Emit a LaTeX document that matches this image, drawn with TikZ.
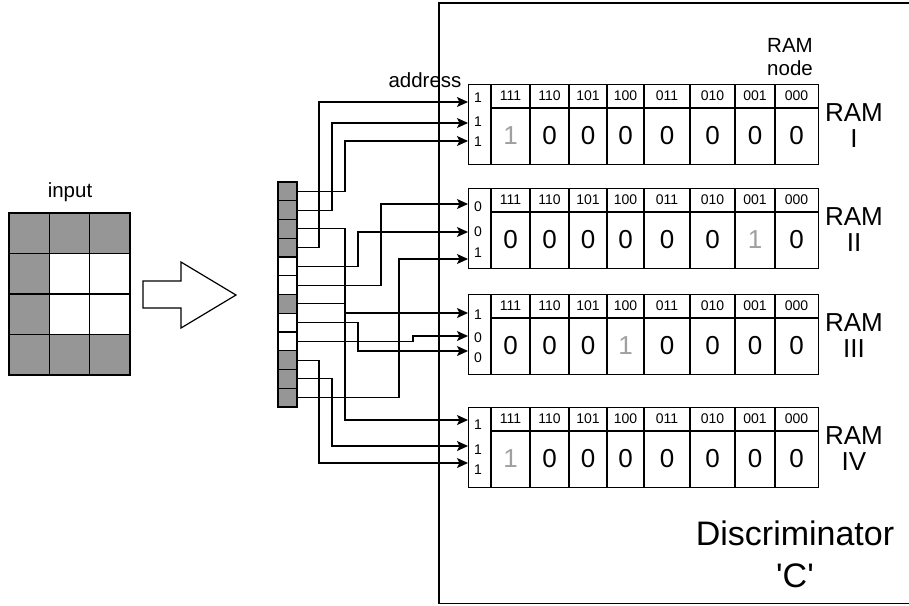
\documentclass[tikz,border=0pt]{standalone}
\usepackage{fontspec}
\setmainfont{Liberation Sans}
\usetikzlibrary{arrows.meta}
\definecolor{cellgray}{RGB}{150,150,150}
\definecolor{softone}{RGB}{160,160,160}
\begin{document}
\begin{tikzpicture}[x=1pt,y=-1pt,
  line join=miter,
  box/.style={draw=black,line width=1.2pt},
  wire/.style={line width=1.2pt,-{Stealth[length=11pt,width=10pt,inset=2.5pt]}},
  regcell/.style={draw=black,line width=1.2pt,minimum width=19pt,minimum height=18.75pt,
    inner sep=0pt,outer sep=0pt,anchor=north west},
  hdr/.style={font=\fontsize{14}{16}\selectfont,inner sep=0pt},
  val/.style={font=\fontsize{26}{30}\selectfont,inner sep=0pt},
  bit/.style={font=\fontsize{14}{16}\selectfont,inner sep=0pt},
  lbl/.style={font=\fontsize{20.5}{23}\selectfont,inner sep=0pt,align=center},
  ramlbl/.style={font=\fontsize{26}{26}\selectfont,inner sep=0pt,align=center},
  biglbl/.style={font=\fontsize{34}{42}\selectfont,inner sep=0pt,align=center}]

\useasboundingbox (0,0) rectangle (909,605);

% discriminator frame (open to the right)
\draw[line width=1.5pt] (909,3) -- (439,3) -- (439,603.5) -- (909,603.5);

% input pattern 3x4
\node[lbl] (inlabel) at (70,192) {input};
\foreach \r/\row in {0/{1,1,1},1/{1,0,0},2/{1,0,0},3/{1,1,1}}{
  \foreach \v [count=\c from 0] in \row {
    \ifnum\v=1
      \draw[box,fill=cellgray] (9+40.33*\c,213+40.5*\r) rectangle ++(40.33,40.5);
    \else
      \draw[box,fill=white] (9+40.33*\c,213+40.5*\r) rectangle ++(40.33,40.5);
    \fi
  }
}

% block arrow
\draw[line width=1.2pt,fill=white] (143,281) -- (181,281) -- (181,262) -- (236,295)
  -- (181,328) -- (181,308) -- (143,308) -- cycle;

% flattened input register
\foreach \v [count=\i] in {1,1,1,1,0,0,1,0,0,1,1,1}{
  \ifnum\v=1
    \node[regcell,fill=cellgray] (c\i) at (278,{182+18.75*(\i-1)}) {};
  \else
    \node[regcell,fill=white] (c\i) at (278,{182+18.75*(\i-1)}) {};
  \fi
}

% RAM nodes
\foreach \T/\name/\g/\da/\db/\dc/\ba/\bb/\bc/\ya/\yb/\yc [count=\k] in
  {84/I/1/1/1/1/98/122/142/102/123/141,
   188/II/7/0/0/1/207/232/253/204/232/259,
   294/III/4/1/0/0/315/338/358/313/336/351,
   407/IV/1/1/1/1/425/450/470/420/446/463}{
  \node[box,minimum width=350pt,minimum height=80pt,inner sep=0pt,anchor=north west]
    (ram\k) at (468,\T) {};
  \draw[box] (491,\T) -- (491,\T+80);
  \draw[box] (491,\T+24) -- (818,\T+24);
  \foreach \xd in {530,569,607,644,690,735,775}
    \draw[box] (\xd,\T) -- (\xd,\T+80);
  \foreach \cx/\h [count=\j] in {510.5/111,549.5/110,588/101,625.5/100,667/011,712.5/010,755/001,796.5/000}{
    \node[hdr] at (\cx,\T+12) {\h};
    \ifnum\j=\g
      \node[val,text=softone] at (\cx,\T+52) {1};
    \else
      \node[val] at (\cx,\T+52) {0};
    \fi
  }
  \node[bit] at (478,\ba) {\da};
  \node[bit] at (478,\bb) {\db};
  \node[bit] at (478,\bc) {\dc};
  \coordinate (a\k1) at (468,\ya);
  \coordinate (a\k2) at (468,\yb);
  \coordinate (a\k3) at (468,\yc);
  \node[ramlbl] (ramname\k) at (854,\T+42) {RAM\\\name};
}

\node[lbl] (addrlabel) at (425,80) {address};
\node[lbl] (nodelabel) at (790,57) {RAM\\node};
\node[biglbl] (disc) at (795,554) {Discriminator\\\textquotesingle C\textquotesingle};

% wiring from register cells to RAM address lines
\draw[wire] (c1.east) -- ++(48,0) |- (a13);
\draw[wire] (c2.east) -- ++(35,0) |- (a12);
\draw[wire] (c3.east) -- ++(48,0) |- (a41);
\draw[wire] (c4.east) -- ++(22,0) |- (a11);
\draw[wire] (c5.east) -- ++(61,0) |- (a22);
\draw[wire] (c6.east) -- ++(84,0) |- (a21);
\draw[wire] (c7.east) -- ++(48,0) |- (a31);
\draw[wire] (c8.east) -- ++(61,0) |- (a33);
\draw[wire] (c9.east) -- ++(116,0) |- (a32);
\draw[wire] (c10.east) -- ++(22,0) |- (a43);
\draw[wire] (c11.east) -- ++(35,0) |- (a42);
\draw[wire] (c12.east) -- ++(102,0) |- (a23);

\end{tikzpicture}
\end{document}
